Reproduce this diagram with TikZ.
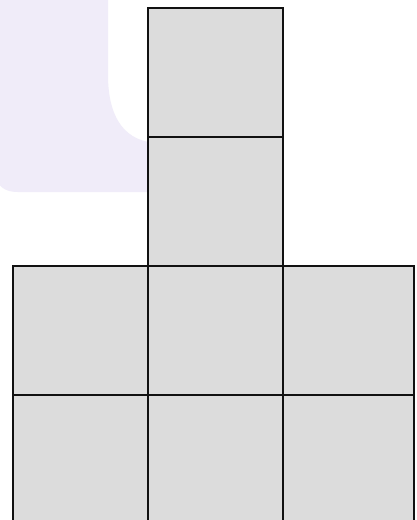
\documentclass[tikz,border=0pt]{standalone}
\usepackage{tikz}
\usepackage{xcolor}
\definecolor{ink}    {HTML}{111111}
\definecolor{cellbg} {HTML}{DCDCDC}
\definecolor{lilac}  {HTML}{F0ECF9}
\tikzset{
  cell/.style ={draw=ink, fill=cellbg, line width=1.4pt,
                minimum width=2.7cm, minimum height=2.58cm,
                inner sep=0pt, outer sep=0pt},
  rcell/.style={cell, minimum width=2.62cm},
}

\begin{document}
\begin{tikzpicture}[x=0.02cm,y=-0.02cm]
  \useasboundingbox (0,0) rectangle (416,520);
  \clip (0,0) rectangle (416,520);
  \fill[white] (0,0) rectangle (416,520);

  % backdrop behind the top left
  \fill[lilac] (-20,-20) -- (108,-20) -- (108,75)
    .. controls (108,118) and (125,143) .. (160,143)
    -- (160,192) -- (18,192) .. controls (4,192) and (-2,186) .. (-4,176)
    -- (-20,176) -- cycle;

  \node[cell]  (top)  at (215.5, 72.5) {};
  \node[cell]  (up)   at (215.5,201.5) {};

  \node[cell]  (l1)   at ( 80.5,330.5) {};
  \node[cell]  (m1)   at (215.5,330.5) {};
  \node[rcell] (r1)   at (348.5,330.5) {};

  \node[cell]  (l2)   at ( 80.5,459.5) {};
  \node[cell]  (m2)   at (215.5,459.5) {};
  \node[rcell] (r2)   at (348.5,459.5) {};
\end{tikzpicture}
\end{document}
